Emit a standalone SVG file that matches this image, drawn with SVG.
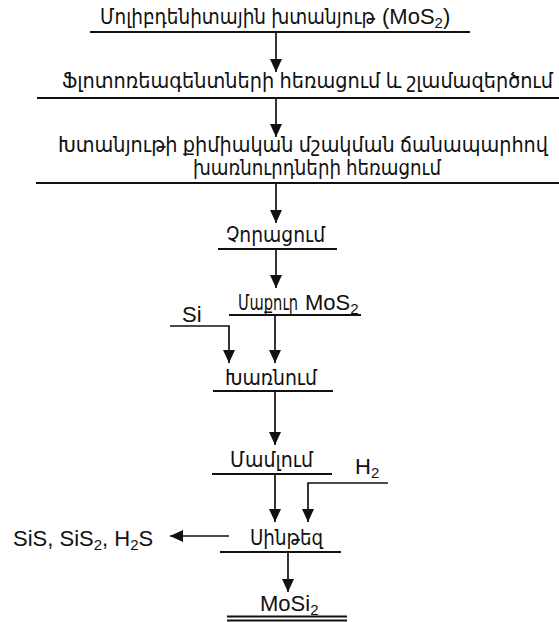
<svg xmlns="http://www.w3.org/2000/svg" width="559" height="622" viewBox="0 0 559 622">
<style>
text{font-family:"Liberation Sans","DejaVu Sans",sans-serif;font-size:22px;fill:#111}
.a{font-size:21px}
.u{stroke:#111;stroke-width:2;fill:none}
.c{stroke:#111;stroke-width:1.7;fill:none;marker-end:url(#ah)}
</style>
<defs>
<marker id="ah" viewBox="0 0 13 12" refX="13" refY="6" markerWidth="13" markerHeight="12" markerUnits="userSpaceOnUse" orient="auto">
<path d="M0,0 L13,6 L0,12 z" fill="#111"/>
</marker>
</defs>
<rect width="559" height="622" fill="#fff"/>
<g id="n1">
<text x="100" y="24"><tspan class="a" textLength="275" lengthAdjust="spacingAndGlyphs">Մոլիբդենիտային խտանյութ</tspan><tspan x="382">(MoS</tspan><tspan font-size="15" dy="4">2</tspan><tspan dy="-4">)</tspan></text>
<path class="u" d="M90,32 H470"/>
</g>
<g id="n2">
<text class="a" x="62" y="88" textLength="491" lengthAdjust="spacingAndGlyphs">Ֆլոտոռեագենտների հեռացում և շլամազերծում</text>
<path class="u" d="M37,98 H559"/>
</g>
<g id="n3">
<text class="a" x="58" y="152" textLength="490" lengthAdjust="spacingAndGlyphs">Խտանյութի քիմիական մշակման ճանապարհով</text>
<text class="a" x="193" y="175" textLength="248" lengthAdjust="spacingAndGlyphs">խառնուրդների հեռացում</text>
<path class="u" d="M36,183 H559"/>
</g>
<g id="n4">
<text class="a" x="226" y="242" textLength="99" lengthAdjust="spacingAndGlyphs">Չորացում</text>
<path class="u" d="M218,249 H337"/>
</g>
<g id="n5">
<text x="238" y="310"><tspan class="a" textLength="60" lengthAdjust="spacingAndGlyphs">Մաքուր</tspan><tspan x="305">MoS</tspan><tspan font-size="15" dy="4">2</tspan></text>
<path class="u" d="M229,315 H361"/>
</g>
<g id="si">
<text x="182" y="322">Si</text>
</g>
<g id="n6">
<text class="a" x="225" y="385" textLength="92" lengthAdjust="spacingAndGlyphs">Խառնում</text>
<path class="u" d="M213,391 H333"/>
</g>
<g id="n7">
<text class="a" x="230" y="467" textLength="83" lengthAdjust="spacingAndGlyphs">Մամլում</text>
<path class="u" d="M212,474 H332"/>
</g>
<g id="h2">
<text x="355" y="474">H<tspan font-size="15" dy="4">2</tspan></text>
</g>
<g id="n8">
<text class="a" x="250" y="545" textLength="73" lengthAdjust="spacingAndGlyphs">Սինթեզ</text>
<path class="u" d="M220,552 H341"/>
</g>
<g id="out">
<text x="13" y="546">SiS, SiS<tspan font-size="15" dy="4">2</tspan><tspan dy="-4">, H</tspan><tspan font-size="15" dy="4">2</tspan><tspan dy="-4">S</tspan></text>
</g>
<g id="n9">
<text x="260" y="611">MoSi<tspan font-size="15" dy="4">2</tspan></text>
<path class="u" stroke-width="1.6" d="M227,616.5 H347 M227,620.5 H347"/>
</g>
<g id="connectors">
<path class="c" d="M276,32 V72"/>
<path class="c" d="M276,98 V137"/>
<path class="c" d="M276,183 V223"/>
<path class="c" d="M276,249 V288"/>
<path class="c" d="M170,326 H229 V363"/>
<path class="c" d="M275,315 V363"/>
<path class="c" d="M275,391 V445"/>
<path class="c" d="M275,474 V522"/>
<path class="c" d="M388,483 H308 V522"/>
<path class="c" d="M229,536 H170"/>
<path class="c" d="M288,552 V592"/>
</g>
</svg>
